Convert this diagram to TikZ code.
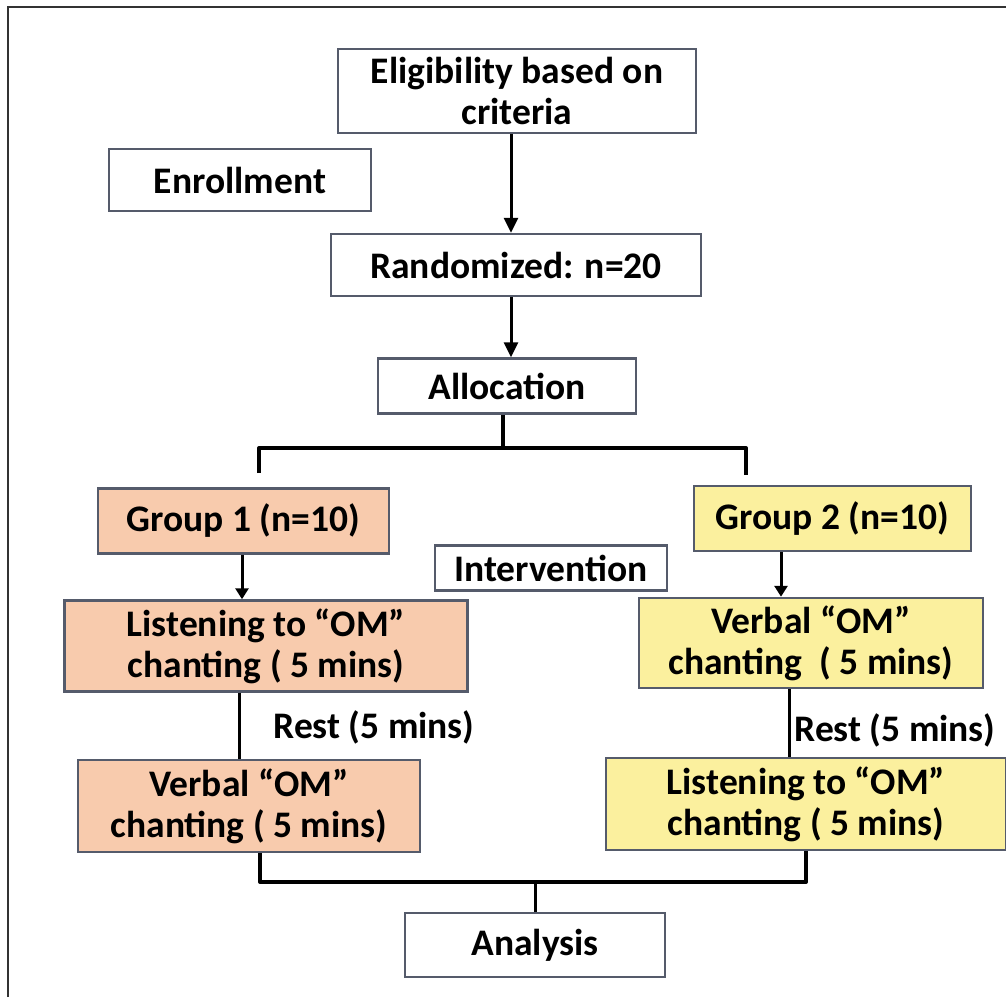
\documentclass[tikz,border=0pt]{standalone}
\usepackage{fontspec}
\setmainfont{Carlito}
\usepackage{tikz}
\usetikzlibrary{positioning, arrows.meta, calc}

\definecolor{peach}{HTML}{F8CBAD}
\definecolor{lemon}{HTML}{FBF09E}
\definecolor{edgegray}{HTML}{555B6B}

\tikzset{
    box/.style={draw=edgegray, line width=2.5pt, inner sep=0pt, align=center,
        font=\fontsize{37.5}{41}\selectfont\bfseries},
    resttext/.style={inner sep=0pt, font=\fontsize{37.5}{41}\selectfont\bfseries},
    link/.style={black, line width=3pt},
    split/.style={black, line width=4pt, line join=round},
    arr/.style={link, -{Triangle[length=15pt,width=14pt]}},
    smallarr/.style={link, -{Triangle[length=11pt,width=13pt]}},
}

\begin{document}
\begin{tikzpicture}[x=1pt, y=-1pt]
    \useasboundingbox (0,0) rectangle (1006,997);

    % frame
    \draw[black!80, line width=2pt] (8,997) -- (8,6.5) -- (1006,6.5);

    % boxes
    \foreach \name/\x/\y/\w/\h/\co/\txt in {
        elig/517/91/358/84/white/{Eligibility based on\\criteria},
        enroll/240/180/262/62/white/{Enrollment},
        rand/516/265/370/62/white/{Randomized: n=20},
        alloc/507/386/258/55/white/{Allocation},
        g1/243.5/521/291/65/peach/{Group 1 (n=10)},
        g2/832.5/518.5/277/65/lemon/{Group 2 (n=10)},
        interv/551/568/232/45/white/{Intervention},
        list1/266/646/403/91/peach/{Listening to “OM”\\chanting ( 5 mins)},
        verb2/811/643/344/90/lemon/{Verbal “OM”\\chanting\ \ ( 5 mins)},
        verb1/249/806/342/92/peach/{Verbal “OM”\\chanting ( 5 mins)},
        list2/806/804/400/92/lemon/{Listening to “OM”\\chanting ( 5 mins)},
        ana/535/945/260/64/white/{Analysis}}
    {
        \node[box, fill=\co, minimum width=\w pt, minimum height=\h pt]
            (\name) at (\x,\y) {\txt};
    }

    % rest labels
    \node[resttext] (rest1) at (374,727) {Rest (5 mins)};
    \node[resttext] (rest2) at (895,730) {Rest (5 mins)};

    % helper coordinates
    \coordinate (mid) at (511,0);
    \coordinate (sp) at (503,448);
    \coordinate (sl) at (259,473);
    \coordinate (sr) at (746,475);
    \coordinate (g2a) at (781,0);
    \coordinate (r1) at (239,0);
    \coordinate (r2) at (789,0);
    \coordinate (jl) at (260,882);
    \coordinate (jr) at (806,882);

    % main column
    \draw[arr] (elig.south -| mid) -- (rand.north -| mid);
    \draw[arr] (rand.south -| mid) -- (alloc.north -| mid);

    % split into groups
    \draw[split] (alloc.south -| sp) -- (sp);
    \draw[split] (sl) -- (sl |- sp) -- (sr |- sp) -- (sr);

    % group arrows
    \draw[smallarr] (g1.south -| 242,0) -- (list1.north -| 242,0);
    \draw[smallarr] (g2.south -| g2a) -- (verb2.north -| g2a);

    % rest lines
    \draw[link] (list1.south -| r1) -- (verb1.north -| r1);
    \draw[link] (verb2.south -| r2) -- (list2.north -| r2);

    % join to analysis
    \draw[split] (verb1.south -| jl) -- (jl) -- (jr) -- (list2.south -| jr);
    \draw[link] (ana.north |- jl) -- (ana.north);
\end{tikzpicture}
\end{document}
